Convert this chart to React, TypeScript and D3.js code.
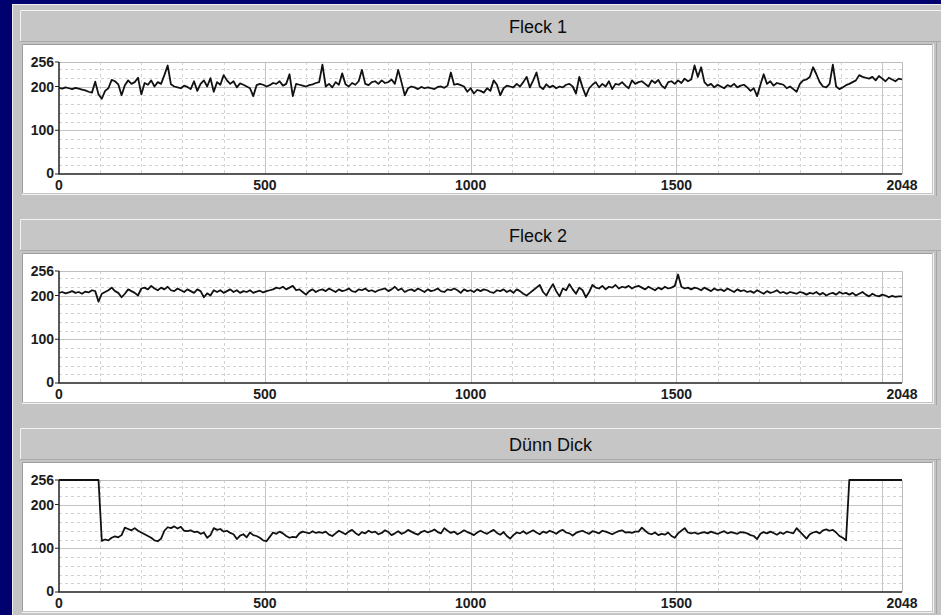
import React, { useEffect, useRef } from 'react';
import * as d3 from 'd3';

// sample spacing of the traces (x = index * sampleStep)
const sampleStep = 8;
const xMax = 2048;
const yMax = 256;

const panelTitles = ['Fleck 1', 'Fleck 2', 'Dünn Dick'];
const xTickValues = [0, 500, 1000, 1500, 2048];
const yTickValues = [0, 100, 200, 256];

const fleck1 = [
  197, 195, 198, 196, 194, 197, 195, 193, 191, 188, 186, 211, 182, 172, 190, 196,
  215, 212, 205, 180, 203, 214, 206, 210, 220, 182, 208, 204, 214, 200, 210, 206,
  226, 248, 205, 200, 198, 196, 202, 199, 194, 212, 190, 206, 214, 200, 219, 188,
  210, 204, 226, 214, 206, 212, 198, 207, 204, 200, 196, 178, 203, 206, 204, 200,
  203, 208, 206, 212, 202, 206, 228, 178, 206, 204, 202, 200, 203, 205, 208, 210,
  250, 200, 206, 198, 210, 204, 230, 205, 200, 208, 204, 212, 238, 206, 203, 210,
  212, 206, 214, 208, 210, 216, 206, 238, 210, 180, 196, 200, 198, 194, 199, 196,
  198, 196, 194, 199, 200, 197, 202, 232, 204, 206, 203, 200, 188, 196, 184, 192,
  190, 186, 196, 190, 214, 204, 180, 196, 202, 200, 198, 206, 200, 210, 222, 198,
  214, 232, 200, 194, 205, 198, 202, 196, 200, 198, 204, 206, 200, 184, 222, 198,
  178, 196, 204, 210, 198, 206, 200, 212, 194, 206, 204, 210, 202, 196, 214, 206,
  210, 212, 206, 200, 214, 208, 215, 202, 196, 210, 212, 206, 214, 208, 218, 212,
  216, 248, 222, 244, 210, 202, 206, 198, 204, 200, 196, 203, 200, 206, 198, 202,
  204, 198, 190, 196, 178, 204, 228, 206, 212, 202, 208, 206, 204, 196, 200, 194,
  188, 206, 214, 216, 222, 244, 228, 210, 200, 198, 206, 250, 200, 194, 198, 203,
  206, 210, 214, 226, 222, 220, 218, 222, 214, 224, 218, 212, 220, 216, 212, 218,
  216,
];

const fleck2 = [
  206, 208, 205, 207, 210, 206, 208, 204, 209, 207, 212, 210, 186, 204, 208, 212,
  218, 210, 206, 196, 204, 214, 210, 206, 200, 216, 218, 214, 222, 216, 212, 218,
  214, 220, 212, 210, 216, 212, 208, 214, 210, 206, 214, 210, 196, 205, 200, 212,
  208, 212, 206, 210, 214, 208, 212, 206, 210, 208, 212, 206, 209, 211, 207, 210,
  212, 214, 218, 216, 220, 214, 218, 222, 212, 214, 208, 202, 210, 214, 208, 212,
  214, 210, 216, 212, 208, 214, 210, 212, 216, 210, 208, 214, 212, 216, 210, 212,
  208, 212, 214, 216, 210, 214, 220, 212, 216, 208, 212, 214, 210, 216, 212, 208,
  214, 210, 212, 216, 210, 208, 214, 212, 216, 212, 206, 214, 210, 212, 208, 214,
  210, 214, 212, 208, 206, 212, 210, 214, 208, 212, 206, 214, 210, 204, 200, 206,
  212, 218, 224, 208, 200, 214, 226, 210, 198, 216, 212, 226, 214, 204, 218, 212,
  196, 208, 224, 218, 216, 222, 214, 220, 218, 224, 216, 220, 218, 222, 216, 220,
  222, 218, 214, 220, 216, 212, 218, 214, 220, 216, 218, 222, 248, 220, 216, 218,
  214, 218, 216, 212, 218, 214, 210, 216, 212, 214, 210, 216, 212, 208, 214, 210,
  212, 208, 210, 206, 212, 208, 204, 210, 206, 208, 212, 206, 208, 204, 208, 206,
  204, 208, 206, 202, 206, 204, 208, 202, 206, 200, 204, 206, 202, 208, 204, 206,
  202, 206, 200, 204, 208, 202, 198, 204, 200, 198, 202, 200, 196, 199, 197, 198,
  198,
];

const duennDick = [
  256, 256, 256, 256, 256, 256, 256, 256, 256, 256, 256, 256, 256, 117, 120, 118,
  124, 127, 125, 130, 147, 144, 141, 146, 140, 136, 132, 128, 124, 118, 116, 122,
  140, 148, 146, 150, 145, 149, 140, 139, 141, 137, 138, 133, 136, 124, 130, 146,
  142, 144, 138, 140, 135, 132, 121, 129, 132, 125, 136, 130, 128, 124, 118, 116,
  126, 136, 133, 138, 134, 128, 124, 126, 125, 134, 138, 136, 134, 139, 135, 137,
  135, 138, 131, 128, 134, 140, 136, 132, 138, 142, 135, 130, 137, 134, 140, 136,
  138, 132, 135, 141, 137, 130, 134, 139, 133, 136, 142, 138, 134, 131, 137, 140,
  136, 139, 143, 137, 134, 146, 140, 135, 138, 132, 136, 141, 137, 134, 130, 136,
  140, 136, 133, 138, 142, 135, 131, 137, 128, 122, 130, 136, 134, 139, 133, 137,
  141, 136, 132, 138, 135, 140, 137, 133, 139, 142, 136, 134, 129, 135, 138, 140,
  136, 133, 139, 137, 134, 140, 138, 135, 132, 136, 139, 141, 136, 137, 135, 138,
  138, 147, 140, 134, 132, 136, 130, 133, 131, 136, 128, 124, 134, 140, 146, 136,
  134, 136, 133, 135, 137, 134, 138, 135, 133, 136, 139, 134, 137, 135, 133, 137,
  136, 134, 130, 128, 121, 133, 137, 134, 138, 135, 131, 136, 133, 138, 136, 134,
  146, 138, 130, 122, 132, 136, 138, 134, 141, 143, 140, 142, 136, 128, 124, 118,
  256, 256, 256, 256, 256, 256, 256, 256, 256, 256, 256, 256, 256, 256, 256, 256,
  256,
];

const allSeries = [fleck1, fleck2, duennDick];

const App: React.FC = () => {
  const svgRef = useRef<SVGSVGElement | null>(null);

  useEffect(() => {
    if (!svgRef.current) return;
    const W = 941;
    const H = 615;
    const panelPitch = 209;

    const svg = d3.select(svgRef.current);
    svg.selectAll('*').remove();
    svg.attr('width', W).attr('height', H);

    svg.append('rect').attr('width', W).attr('height', H).attr('fill', '#00006e');
    svg.append('rect').attr('x', 12).attr('y', 4).attr('width', W - 12).attr('height', H - 4).attr('fill', '#c4c4c4');
    svg.append('path').attr('d', `M12.5,${H} V4.5 H${W}`).attr('fill', 'none').attr('stroke', '#ededed');

    const tickFont = "'Liberation Sans', Arial, sans-serif";

    allSeries.forEach((values, i) => {
      const top = 10 + i * panelPitch;
      const g = svg.append('g').attr('transform', `translate(0,${top})`);

      // title bar
      g.append('rect').attr('x', 20).attr('y', 0).attr('width', W - 20).attr('height', 32).attr('fill', '#c6c6c6');
      g.append('path').attr('d', `M20.5,32 V0.5 H${W}`).attr('fill', 'none').attr('stroke', '#f3f3f3');
      g.append('path').attr('d', `M20,31.5 H${W}`).attr('fill', 'none').attr('stroke', '#a9a9a9');
      g.append('text')
        .attr('x', 509)
        .attr('y', 23)
        .attr('font-family', tickFont)
        .attr('font-size', 18)
        .attr('fill', '#0c0c0c')
        .text(panelTitles[i]);

      // plot background
      g.append('rect').attr('x', 22).attr('y', 34).attr('width', 910).attr('height', 149).attr('fill', '#ffffff');
      g.append('path').attr('d', 'M22.5,183 V34.5 H932').attr('fill', 'none').attr('stroke', '#9c9c9c');
      g.append('path').attr('d', 'M22,184.5 H933.5 V34').attr('fill', 'none').attr('stroke', '#f2f2f2');
      g.append('path').attr('d', 'M936.5,32 V186').attr('fill', 'none').attr('stroke', '#a4a4a4');

      const x = d3.scaleLinear().domain([0, xMax]).range([59, 902]);
      const y = d3.scaleLinear().domain([0, yMax]).range([164, 52]);

      // grid
      const vGrid = d3.range(100, 2001, 100);
      g.append('g')
        .selectAll('line')
        .data(vGrid)
        .enter()
        .append('line')
        .attr('x1', (d) => Math.round(x(d)) + 0.5)
        .attr('x2', (d) => Math.round(x(d)) + 0.5)
        .attr('y1', y(yMax))
        .attr('y2', y(0))
        .attr('stroke', (d) => (d % 500 === 0 ? '#c4c4c4' : '#d2d2d2'))
        .attr('stroke-dasharray', (d) => (d % 500 === 0 ? null : '3,3'));

      const hGrid = d3.range(20, 241, 20);
      g.append('g')
        .selectAll('line')
        .data(hGrid)
        .enter()
        .append('line')
        .attr('x1', x(0))
        .attr('x2', x(xMax))
        .attr('y1', (d) => Math.round(y(d)) + 0.5)
        .attr('y2', (d) => Math.round(y(d)) + 0.5)
        .attr('stroke', (d) => (d % 100 === 0 ? '#c4c4c4' : '#d2d2d2'))
        .attr('stroke-dasharray', (d) => (d % 100 === 0 ? null : '3,3'));

      // frame top / right
      g.append('path')
        .attr('d', `M${x(0)},${y(yMax) + 0.5} H${x(xMax) + 0.5} V${y(0)}`)
        .attr('fill', 'none')
        .attr('stroke', '#bdbdbd');

      // trace
      const line = d3
        .line<number>()
        .x((_, k) => x(k * sampleStep))
        .y((d) => y(d));
      g.append('path')
        .datum(values)
        .attr('d', line)
        .attr('fill', 'none')
        .attr('stroke', '#111')
        .attr('stroke-width', 1.8)
        .attr('stroke-linejoin', 'round');

      // axes
      g.append('path')
        .attr('d', `M${x(0)},${y(yMax)} V${y(0)} H${x(xMax)}`)
        .attr('fill', 'none')
        .attr('stroke', '#222')
        .attr('stroke-width', 1.5);

      g.append('g')
        .selectAll('line')
        .data(yTickValues)
        .enter()
        .append('line')
        .attr('x1', x(0) - 4)
        .attr('x2', x(0))
        .attr('y1', (d) => y(d))
        .attr('y2', (d) => y(d))
        .attr('stroke', '#222');

      g.append('g')
        .selectAll('text')
        .data(yTickValues)
        .enter()
        .append('text')
        .attr('x', 54)
        .attr('y', (d) => (d === 0 ? y(d) - 1 : y(d)))
        .attr('dy', '0.36em')
        .attr('text-anchor', 'end')
        .attr('font-family', tickFont)
        .attr('font-weight', 'bold')
        .attr('font-size', 14)
        .attr('fill', '#1c1c1c')
        .text((d) => d);

      g.append('g')
        .selectAll('text')
        .data(xTickValues)
        .enter()
        .append('text')
        .attr('x', (d) => x(d))
        .attr('y', y(0) + 16)
        .attr('text-anchor', 'middle')
        .attr('font-family', tickFont)
        .attr('font-weight', 'bold')
        .attr('font-size', 14)
        .attr('fill', '#1c1c1c')
        .text((d) => d);
    });
  }, []);

  return (
    <div style={{ position: 'absolute', left: 0, top: 0 }}>
      <svg ref={svgRef} style={{ display: 'block' }}></svg>
    </div>
  );
};

export default App;
